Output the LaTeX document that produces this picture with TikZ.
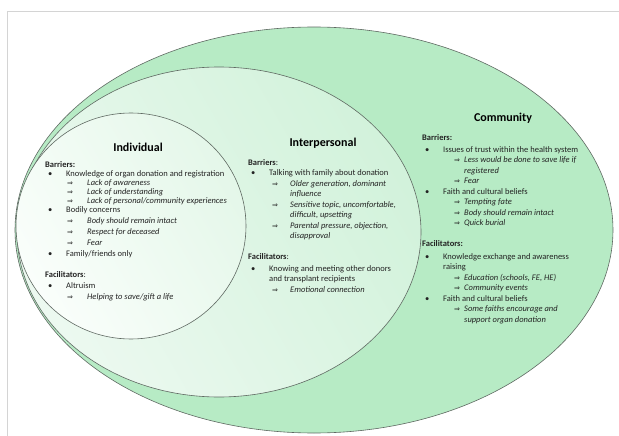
\documentclass[tikz,border=0pt]{standalone}
\usepackage{fontspec}
\setmainfont{Carlito}
\newfontfamily\arrowfont{DejaVu Sans}
\usepackage{tikz}

\definecolor{frameGray}{RGB}{212,212,212}
\definecolor{ringLine}{RGB}{95,105,98}
\definecolor{communityFill}{RGB}{183,235,197}
\definecolor{interLight}{RGB}{236,249,240}
\definecolor{interDark}{RGB}{210,242,219}
\definecolor{indivLight}{RGB}{250,254,251}
\definecolor{indivDark}{RGB}{228,247,233}
\definecolor{bodyText}{RGB}{35,35,35}

% list helpers: bullet item, implication item, continuation lines
\newcommand{\bul}[1]{\hspace*{3pt}\makebox[18pt][l]{\textbullet}#1}
\newcommand{\imp}[2][22pt]{\hspace*{#1}\makebox[\dimexpr42pt-#1\relax][l]{{\arrowfont\fontsize{7}{7}\selectfont ⇒}}\textit{#2}}
\newcommand{\impcont}[1]{\hspace*{42pt}\textit{#1}}
\newcommand{\bulcont}[1]{\hspace*{21pt}#1}

\begin{document}
\begin{tikzpicture}[x=1pt,y=-1pt,
    ring/.style={draw=ringLine,line width=0.6pt},
    title/.style={font=\fontsize{12}{14}\selectfont\bfseries},
    block/.style={anchor=north west,inner sep=0pt,align=left,text=bodyText}]

  \useasboundingbox (0,0) rectangle (619,436);

  % --- page frame ---
  \draw[frameGray,line width=0.8pt] (7,436) -- (7,11) -- (619,11);

  % --- the three nested levels ---
  \draw[ring,fill=communityFill] (314,230) ellipse [x radius=299pt,y radius=203pt];
  \draw[ring,left color=interLight,right color=interDark,shading angle=120]
    (219,232) ellipse [x radius=202pt,y radius=165pt];
  \draw[ring,left color=indivLight,right color=indivDark,shading angle=120]
    (131,226) ellipse [x radius=115pt,y radius=113pt];

  % --- level titles ---
  \node[title] (indivTitle) at (138,147) {Individual};
  \node[title] (interTitle) at (323,143) {Interpersonal};
  \node[title] (commTitle)  at (503,118) {Community};

  % --- individual ---
  \node[block,font=\fontsize{8.5}{9}\selectfont] (indivList) at (45,161) {%
    \textbf{Barriers:}\\
    \bul{Knowledge of organ donation and registration}\\
    \imp{Lack of awareness}\\
    \imp{Lack of understanding}\\
    \imp{Lack of personal/community experiences}\\
    \bul{Bodily concerns}\\[2pt]
    \imp{Body should remain intact}\\[2pt]
    \imp{Respect for deceased}\\[2pt]
    \imp{Fear}\\[2pt]
    \bul{Family/friends only}\\[12pt]
    \textbf{Facilitators}:\\[2pt]
    \bul{Altruism}\\[2pt]
    \imp{Helping to save/gift a life}};

  % --- interpersonal ---
  \node[block,font=\fontsize{8.5}{10.5}\selectfont] (interList) at (248,159) {%
    \textbf{Barriers}:\\
    \bul{Talking with family about donation}\\
    \imp[24pt]{Older generation, dominant}\\
    \impcont{influence}\\
    \imp[24pt]{Sensitive topic, uncomfortable,}\\
    \impcont{difficult, upsetting}\\
    \imp[24pt]{Parental pressure, objection,}\\
    \impcont{disapproval}\\[10.5pt]
    \textbf{Facilitators}:\\[1pt]
    \bul{Knowing and meeting other donors}\\
    \bulcont{and transplant recipients}\\
    \imp[24pt]{Emotional connection}};

  % --- community ---
  \node[block,font=\fontsize{8.5}{10.5}\selectfont] (commList) at (422,134) {%
    \textbf{Barriers:}\\[1.5pt]
    \bul{Issues of trust within the health system}\\
    \imp[32pt]{Less would be done to save life if}\\
    \impcont{registered}\\
    \imp[32pt]{Fear}\\
    \bul{Faith and cultural beliefs}\\
    \imp[32pt]{Tempting fate}\\
    \imp[32pt]{Body should remain intact}\\
    \imp[32pt]{Quick burial}\\[10.5pt]
    \textbf{Facilitators:}\\[2pt]
    \bul{Knowledge exchange and awareness}\\
    \bulcont{raising}\\
    \imp[32pt]{Education (schools, FE, HE)}\\
    \imp[32pt]{Community events}\\
    \bul{Faith and cultural beliefs}\\
    \imp[32pt]{Some faiths encourage and}\\
    \impcont{support organ donation}};
\end{tikzpicture}
\end{document}
